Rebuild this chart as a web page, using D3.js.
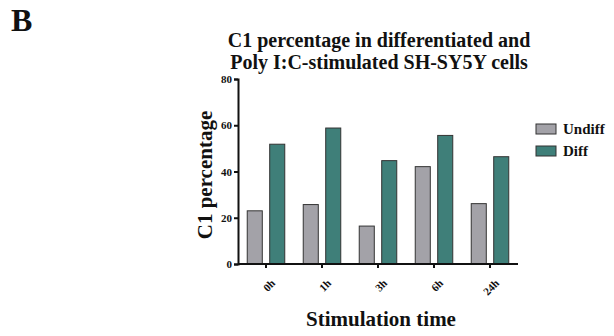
<!DOCTYPE html>
<html><head><meta charset="utf-8">
<script src="https://cdn.jsdelivr.net/npm/d3@7"></script>
<style>
body{margin:0;background:#fff;}
svg text{font-family:"Liberation Serif","Times New Roman",serif;font-weight:bold;fill:#111;}
</style></head>
<body><svg id="c" width="614" height="336"></svg>
<script>
const categories = ["0h","1h","3h","6h","24h"];
const seriesNames = ["Undiff","Diff"];
const undiff = [23.0, 25.7, 16.4, 42.1, 26.1];
const diff = [51.8, 58.8, 44.7, 55.6, 46.4];
const yTicks = [0,20,40,60,80];
const colors = ["#a3a2a8","#3f7f79"];

const svg = d3.select("#c");
const pL = 238, pR = 518, pT = 79, pB = 264;

const x = d3.scaleBand().domain(categories).range([pL, pR]).paddingInner(0.33).paddingOuter(0.165);
const x1 = d3.scaleBand().domain(seriesNames).range([0, x.bandwidth()]).paddingInner(0.33);
const y = d3.scaleLinear().domain([0,80]).range([pB, pT]);

const data = categories.map((c,i)=>({cat:c, vals:[undiff[i], diff[i]]}));

const g = svg.append("g");
data.forEach(d=>{
  d.vals.forEach((v,j)=>{
    g.append("rect")
      .attr("x", x(d.cat)+x1(seriesNames[j]))
      .attr("y", y(v))
      .attr("width", x1.bandwidth())
      .attr("height", y(0)-y(v))
      .attr("fill", colors[j])
      .attr("stroke", "#333")
      .attr("stroke-width", 1);
  });
});

// y axis
const ya = svg.append("g").attr("transform",`translate(${pL},0)`)
  .call(d3.axisLeft(y).tickValues(yTicks).tickSize(4).tickPadding(2));
ya.select(".domain").attr("stroke","#111").attr("stroke-width",2);
ya.selectAll(".tick line").attr("stroke","#111").attr("stroke-width",2);
ya.selectAll("text").attr("font-size",11).attr("fill","#222");

// x axis
const xa = svg.append("g").attr("transform",`translate(0,${pB})`)
  .call(d3.axisBottom(x).tickSize(4).tickSizeOuter(0));
xa.select(".domain").attr("stroke","#111").attr("stroke-width",2).attr("d",`M${pL},0H${pR}`);
xa.selectAll(".tick line").attr("stroke","#111").attr("stroke-width",2);
xa.selectAll("text").attr("font-size",11).attr("fill","#222")
  .attr("text-anchor","end").attr("dy",0)
  .attr("transform","translate(5,15) rotate(-45)");

// titles
svg.append("text").attr("x",11).attr("y",31).attr("font-size",32).text("B");
svg.append("text").attr("x",379).attr("y",47).attr("text-anchor","middle").attr("font-size",20)
  .text("C1 percentage in differentiated and");
svg.append("text").attr("x",379).attr("y",69).attr("text-anchor","middle").attr("font-size",20)
  .text("Poly I:C-stimulated SH-SY5Y cells");
svg.append("text").attr("transform",`translate(212,175) rotate(-90)`)
  .attr("text-anchor","middle").attr("font-size",21).text("C1 percentage");
svg.append("text").attr("x",381).attr("y",326).attr("text-anchor","middle").attr("font-size",21)
  .text("Stimulation time");

// legend
const lg = svg.append("g");
seriesNames.forEach((s,i)=>{
  const yy = 124 + i*22;
  lg.append("rect").attr("x",536).attr("y",yy).attr("width",20).attr("height",10)
    .attr("fill",colors[i]).attr("stroke","#333").attr("stroke-width",1);
  lg.append("text").attr("x",563).attr("y",yy+10).attr("font-size",15).text(s);
});
</script></body></html>
